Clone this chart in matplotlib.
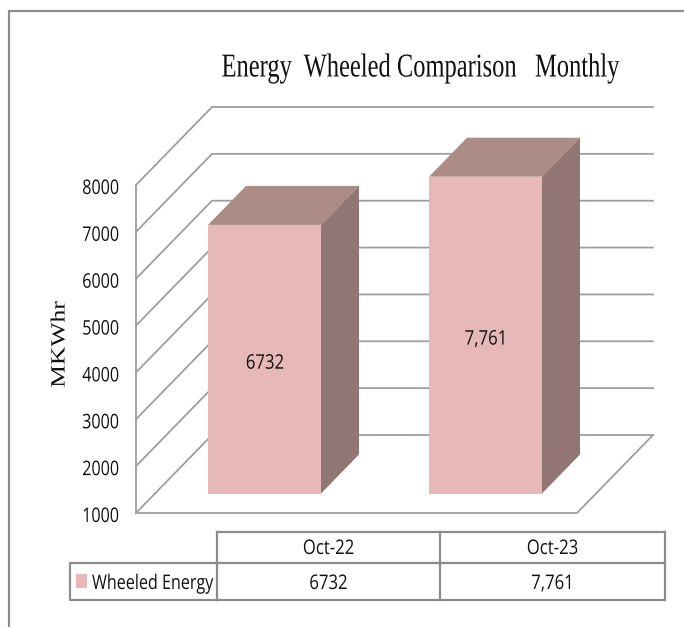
import matplotlib
matplotlib.use('Agg')
import matplotlib.pyplot as plt
from matplotlib.patches import Polygon, Rectangle
from matplotlib.patheffects import AbstractPathEffect
from matplotlib.transforms import Affine2D

# data
months = ['Oct-22', 'Oct-23']
wheeled = [6732, 7761]
wheeled_labels = ['6732', '7,761']
yticks = [1000, 2000, 3000, 4000, 5000, 6000, 7000, 8000]
series_name = 'Wheeled Energy'

W, H = 684, 627
# value axis: 1000 at pixel 513, 8000 at pixel 185
per_px = 7000 / (513 - 185)
grid_col = '#9e9e9e'
line_col = '#8c8c8c'
txt_col = '#111111'
sans = 'Open Sans'
serif = 'Liberation Serif'


# the source image is squashed sideways, so squeeze the glyphs about an anchor
class Squeeze(AbstractPathEffect):
    def __init__(self, sx, sy, cx, cy, down=0):
        super().__init__()
        self.tr = Affine2D().translate(-cx, -cy).scale(sx, sy).translate(cx, cy - down)

    def draw_path(self, renderer, gc, tpath, affine, rgbFace=None):
        renderer.draw_path(gc, tpath, affine + self.tr, rgbFace)


def squeeze(t, x, y, sx=0.8, sy=1.0, down=0):
    t.set_path_effects([Squeeze(sx, sy, x, H - y, down)])
    return t


fig = plt.figure(figsize=(W / 100, H / 100), dpi=100)

# pixel axes for frame, title and table
pix = fig.add_axes([0, 0, 1, 1])
pix.set_xlim(0, W)
pix.set_ylim(H, 0)
pix.axis('off')

# value axes, same size, y in MKWhr
ax = fig.add_axes([0, 0, 1, 1], facecolor='none')
ax.set_xlim(0, W)
ax.set_ylim(1000 - (H - 513) * per_px, 1000 + 513 * per_px)
for s in ['top', 'right', 'bottom']:
    ax.spines[s].set_visible(False)
ax.spines['left'].set_position(('data', 136))
ax.spines['left'].set_bounds(1000, 8000)
ax.spines['left'].set_color(grid_col)
ax.spines['left'].set_linewidth(1.3)
ax.set_xticks([])
ax.set_yticks(yticks)
ax.tick_params(axis='y', length=0, pad=12.2, labelsize=14.5, labelcolor=txt_col)
for t in ax.get_yticklabels():
    t.set_fontfamily(sans)
    squeeze(t, 119, 0, down=1.5)

# walls and floor
dx, dy = 76, 78 * per_px
x0, x1 = 136, 577
for v in yticks:
    ax.plot([x0, x0 + dx, x1 + dx], [v, v + dy, v + dy], color=grid_col, lw=1.3, zorder=1,
            solid_joinstyle='miter')
ax.plot([x0, x1, x1 + dx], [1000, 1000, 1000 + dy], color=grid_col, lw=1.3, zorder=1)

# bars
centers = [264.5, 485.5]
bw = 113
front_col = '#e6b8b7'
top_col = '#ad8c88'
side_col = '#917674'
for c, v, lab in zip(centers, wheeled, wheeled_labels):
    l, r = c - bw / 2, c + bw / 2
    b = 1000 + dy / 4
    t = v + dy / 4
    ax.add_patch(Rectangle((l, b), bw, t - b, fc=front_col, ec='none', zorder=3))
    ax.add_patch(Polygon([(l, t), (r, t), (r + dx / 2, t + dy / 2), (l + dx / 2, t + dy / 2)],
                         fc=top_col, ec='none', zorder=3))
    ax.add_patch(Polygon([(r, b), (r, t), (r + dx / 2, t + dy / 2), (r + dx / 2, b + dy / 2)],
                         fc=side_col, ec='none', zorder=3))
    txt = ax.text(c + 0.5, (b + t) / 2 - 4.5 * per_px, lab, ha='center', va='center', fontsize=14.5,
                  family=sans, color=txt_col, zorder=4)
    squeeze(txt, c + 0.5, 0, sx=0.83)

# outer frame, left and top only
pix.plot([9, 9, W], [H, 11, 11], color=line_col, lw=1.6, clip_on=False)

# right anchored so the unsqueezed box stays inside the figure
squeeze(pix.text(620, 68, 'Energy  Wheeled Comparison   Monthly', ha='right', va='center',
                 fontsize=24, family=serif, color=txt_col), 620, 68, sx=0.735)
squeeze(pix.text(60, 344.5, 'MKWhr', rotation=90, ha='center', va='center', fontsize=14.5,
                 family=serif, color=txt_col), 60, 344.5, sx=1.0, sy=1.27)

# data table under the chart
tx = [217, 440, 665]
ty = [532, 563, 600]
for y in ty:
    pix.plot([tx[0], tx[-1]], [y, y], color=line_col, lw=1.6)
for x in tx:
    pix.plot([x, x], [ty[0], ty[-1]], color=line_col, lw=1.6)
pix.plot([217, 70, 70, 217], [ty[1], ty[1], ty[2], ty[2]], color=line_col, lw=1.6)
for i, m in enumerate(months):
    mid = (tx[i] + tx[i + 1]) / 2
    squeeze(pix.text(mid, 549, m, ha='center', va='center', fontsize=14.5, family=sans,
                     color=txt_col), mid, 549, sx=0.83)
    squeeze(pix.text(mid, 584, wheeled_labels[i], ha='center', va='center', fontsize=14.5,
                     family=sans, color=txt_col), mid, 584, sx=0.83)
pix.add_patch(Rectangle((76, 574), 11, 14, fc=front_col, ec='none'))
squeeze(pix.text(92, 584, series_name, ha='left', va='center', fontsize=14.5, family=sans,
                 color=txt_col), 92, 584)

fig.savefig('out.png', dpi=100)
